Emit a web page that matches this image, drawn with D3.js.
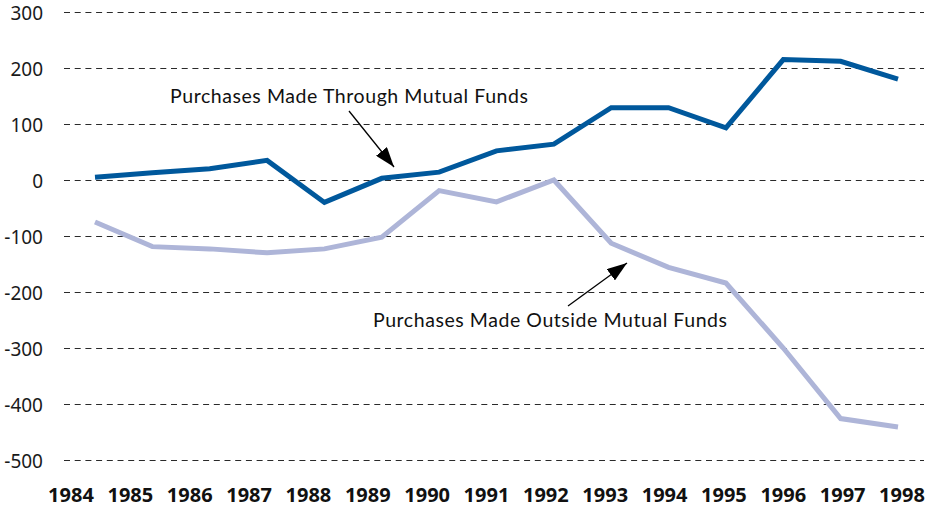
<!DOCTYPE html>
<html>
<head>
<meta charset="utf-8">
<script src="https://cdn.jsdelivr.net/npm/d3@7"></script>
<style>
  body { margin: 0; background: #fff; }
  svg { display: block; }
</style>
</head>
<body>
<svg width="936" height="509"></svg>
<script>
const years = [1984, 1985, 1986, 1987, 1988, 1989, 1990, 1991, 1992, 1993, 1994, 1995, 1996, 1997, 1998];
const throughFunds = [5, 13, 20, 35, -40, 3, 14, 52, 64, 129, 129, 93, 215, 212, 180];
const outsideFunds = [-75, -119, -123, -130, -123, -102, -19, -39, 0, -113, -156, -184, -300, -426, -441];
const yTicks = [300, 200, 100, 0, -100, -200, -300, -400, -500];

let svg = d3.select("svg");

let y = d3.scaleLinear().domain([-500, 300]).range([460, 12]);
let x = d3.scaleLinear().domain([1984, 1998]).range([95, 898]);
let xLabel = d3.scalePoint().domain(years).range([71, 902]);

// gridlines
svg
  .append("g")
  .selectAll("line")
  .data(yTicks)
  .join("line")
  .attr("x1", 64)
  .attr("x2", 924)
  .attr("y1", (d) => Math.round(y(d)) + 0.5)
  .attr("y2", (d) => Math.round(y(d)) + 0.5)
  .attr("stroke", "#2a2a2a")
  .attr("stroke-width", 1.2)
  .attr("stroke-dasharray", "6,4.7");

// y labels
svg
  .append("g")
  .selectAll("text")
  .data(yTicks)
  .join("text")
  .text((d) => d)
  .attr("x", 43)
  .attr("y", (d) => y(d) + 8)
  .attr("text-anchor", "end")
  .attr("font-family", "Noto Sans")
  .attr("font-size", 19)
  .attr("fill", "#1a1a1a");

// x labels
svg
  .append("g")
  .selectAll("text")
  .data(years)
  .join("text")
  .text((d) => d)
  .attr("x", (d) => xLabel(d))
  .attr("y", 502)
  .attr("text-anchor", "middle")
  .attr("font-family", "Noto Sans")
  .attr("font-weight", "bold")
  .attr("font-size", 20)
  .attr("fill", "#111");

let line = d3
  .line()
  .x((d, i) => x(years[i]))
  .y((d) => y(d));

svg
  .append("path")
  .datum(outsideFunds)
  .attr("d", line)
  .attr("fill", "none")
  .attr("stroke", "#aeb5d8")
  .attr("stroke-width", 5);

svg
  .append("path")
  .datum(throughFunds)
  .attr("d", line)
  .attr("fill", "none")
  .attr("stroke", "#00589c")
  .attr("stroke-width", 5);

// arrow heads
svg
  .append("defs")
  .append("marker")
  .attr("id", "arrow")
  .attr("viewBox", "0 0 20 14")
  .attr("refX", 20)
  .attr("refY", 7)
  .attr("markerWidth", 20)
  .attr("markerHeight", 14)
  .attr("markerUnits", "userSpaceOnUse")
  .attr("orient", "auto")
  .append("path")
  .attr("d", "M0,0 L20,7 L0,14 Z")
  .attr("fill", "#000");

svg
  .append("line")
  .attr("x1", 349)
  .attr("y1", 111)
  .attr("x2", 394)
  .attr("y2", 167)
  .attr("stroke", "#000")
  .attr("stroke-width", 1.3)
  .attr("marker-end", "url(#arrow)");

svg
  .append("line")
  .attr("x1", 568)
  .attr("y1", 306)
  .attr("x2", 627)
  .attr("y2", 263)
  .attr("stroke", "#000")
  .attr("stroke-width", 1.3)
  .attr("marker-end", "url(#arrow)");

// annotations
svg
  .append("text")
  .text("Purchases Made Through Mutual Funds")
  .attr("x", 170)
  .attr("y", 103)
  .attr("font-family", "Lato")
  .attr("font-size", 19.5)
  .attr("fill", "#111")
  .attr("textLength", 358)
  .attr("lengthAdjust", "spacing");

svg
  .append("text")
  .text("Purchases Made Outside Mutual Funds")
  .attr("x", 373)
  .attr("y", 327)
  .attr("font-family", "Lato")
  .attr("font-size", 19.5)
  .attr("fill", "#111")
  .attr("textLength", 354)
  .attr("lengthAdjust", "spacing");
</script>
</body>
</html>
